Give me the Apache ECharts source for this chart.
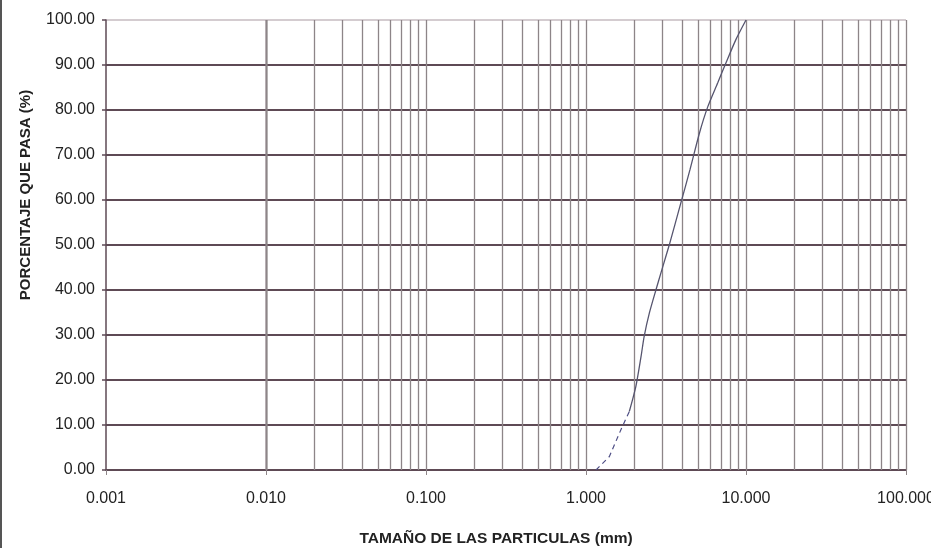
<!DOCTYPE html>
<html>
<head>
<meta charset="utf-8">
<script src="https://cdn.jsdelivr.net/npm/echarts@6/dist/echarts.min.js"></script>
<style>
html,body{margin:0;padding:0;background:#fff;}
#c{width:931px;height:548px;}
</style>
</head>
<body>
<div id="c"></div>
<script>
// Particle size (mm) vs percent passing
const sizeLow = [1.155, 1.40, 1.655, 1.865];
const passLow = [0.0, 3.0, 9.0, 13.0];
const sizeMain = [1.865, 2.05, 2.21, 2.31, 2.49, 2.74, 2.94, 3.32, 3.92, 4.47, 5.12, 5.78, 6.65, 7.50, 8.66, 10.0];
const passMain = [13.0, 18.6, 25.3, 29.7, 34.9, 40.1, 43.8, 50.1, 59.4, 66.8, 74.9, 80.8, 86.0, 90.5, 95.7, 100.0];
const xTickLabels = ['0.001', '0.010', '0.100', '1.000', '10.000', '100.000'];
const yTickLabels = ['0.00','10.00','20.00','30.00','40.00','50.00','60.00','70.00','80.00','90.00','100.00'];
const gridDecades = [0.001, 0.01, 0.1, 1, 10];
const gridMultipliers = [1, 2, 3, 4, 5, 6, 7, 8, 9];
const xTitle = 'TAMAÑO DE LAS PARTICULAS (mm)';
const yTitle = 'PORCENTAJE QUE PASA (%)';

const vLines = [];
gridDecades.forEach(d => gridMultipliers.forEach(m => vLines.push({ xAxis: +(d * m).toPrecision(3) })));
vLines.push({ xAxis: 100 });

const hColor = '#5e4a55';
const vColor = '#8d8588';
const lineColor = '#56556f';

const chart = echarts.init(document.getElementById('c'), null, { renderer: 'canvas' });
chart.setOption({
  animation: false,
  backgroundColor: '#ffffff',
  grid: { left: 106, top: 20, width: 800, height: 450, containLabel: false, outerBoundsMode: 'none' },
  xAxis: {
    type: 'log', logBase: 10, min: 0.001, max: 100,
    axisLine: { show: true, lineStyle: { color: hColor, width: 2 } },
    axisTick: { show: true, length: 5, inside: false, lineStyle: { color: vColor, width: 1 } },
    splitLine: { show: false },
    axisLabel: {
      margin: 21, fontSize: 16, color: '#222', fontFamily: 'Liberation Sans, Arial, sans-serif',
      formatter: v => xTickLabels[Math.round(Math.log10(v) + 3)]
    }
  },
  yAxis: {
    type: 'value', min: 0, max: 100, interval: 10,
    axisLine: { show: true, lineStyle: { color: hColor, width: 1.5 } },
    axisTick: { show: true, length: 4, lineStyle: { color: hColor, width: 1.5 } },
    splitLine: { show: true, lineStyle: { color: [hColor,hColor,hColor,hColor,hColor,hColor,hColor,hColor,hColor,hColor,'#d4ccd0'], width: 2 } },
    axisLabel: {
      margin: 11, fontSize: 16, color: '#222', fontFamily: 'Liberation Sans, Arial, sans-serif',
      formatter: v => yTickLabels[Math.round(v / 10)]
    }
  },
  graphic: [
    { type: 'rect', left: 0, top: 0, shape: { width: 2, height: 548 }, style: { fill: '#555' }, silent: true },
    { type: 'text', x: 496, y: 539, silent: true,
      style: { text: xTitle, fill: '#222', font: 'bold 15.5px "Liberation Sans", Arial, sans-serif', textAlign: 'center', textVerticalAlign: 'middle' } },
    { type: 'text', x: 26, y: 195, rotation: Math.PI / 2, silent: true,
      style: { text: yTitle, fill: '#222', font: 'bold 15px "Liberation Sans", Arial, sans-serif', textAlign: 'center', textVerticalAlign: 'middle' } }
  ],
  series: [
    {
      type: 'line', data: [], silent: true, z: 1,
      markLine: {
        silent: true, symbol: 'none', label: { show: false },
        lineStyle: { color: vColor, width: 1.3, type: 'solid' },
        data: vLines, animation: false
      }
    },
    {
      type: 'line', z: 5, showSymbol: false, symbol: 'none',
      data: sizeLow.map((s, i) => [s, passLow[i]]),
      lineStyle: { color: '#4f4f86', width: 1.2, type: [5, 4] }
    },
    {
      type: 'line', z: 5, showSymbol: false, symbol: 'none', smooth: 0.25,
      data: sizeMain.map((s, i) => [s, passMain[i]]),
      lineStyle: { color: lineColor, width: 1.3 }
    }
  ]
});
</script>
</body>
</html>
